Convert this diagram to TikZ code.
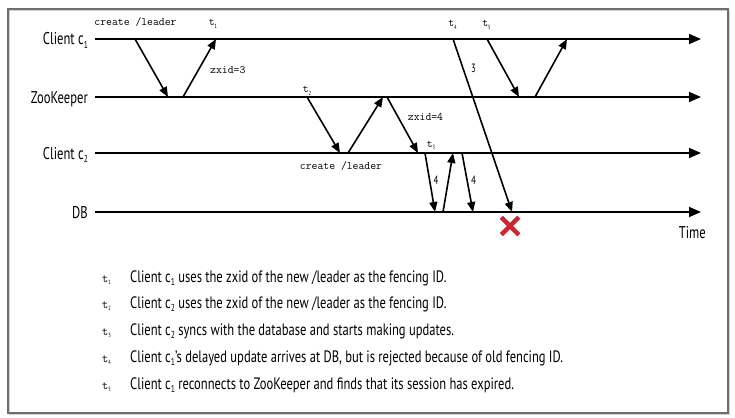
\documentclass[tikz,border=0pt]{standalone}
\usepackage{fontspec}
\setmainfont{PT Sans}[FakeStretch=0.74]
\newfontfamily\legfont{PT Sans}[FakeStretch=0.76]
\usetikzlibrary{arrows.meta,shapes.misc}
\definecolor{xred}{RGB}{204,38,48}
\definecolor{framegray}{RGB}{110,110,110}
\newcommand{\tsub}[1]{{\ttfamily t}\raisebox{-2.5pt}{\rmfamily\fontsize{6}{6}\selectfont #1}}
\newcommand{\csub}[1]{c\raisebox{-3.5pt}{\fontsize{10}{10}\selectfont #1}}
\begin{document}
\begin{tikzpicture}[x=1pt,y=-1pt,
  life/.style={line width=1.8pt,-{Triangle[length=12pt,width=10pt]}},
  msg/.style={line width=1.6pt,-{Triangle[length=10pt,width=8pt]}},
  lname/.style={anchor=base east,font=\fontsize{17}{17}\selectfont,inner sep=0pt},
  mono/.style={anchor=base,font=\ttfamily\fontsize{11.4}{12}\selectfont,inner sep=0pt},
  num/.style={anchor=base,font=\fontsize{12}{12}\selectfont,inner sep=0pt},
  legt/.style={anchor=base west,inner sep=0pt,font=\legfont\fontsize{16.5}{16.5}\selectfont},
  legl/.style={anchor=base west,inner sep=0pt,font=\ttfamily\fontsize{12}{12}\selectfont}
]
\useasboundingbox (0,0) rectangle (735,417);
\draw[gray!35,line width=1.2pt] (9.5,10.5) rectangle (729.5,414.5);
\draw[framegray,line width=1.2pt] (8,9) rectangle (728,413);

% lifeline labels
\node[lname] (lc1) at (88,45) {Client \csub{1}};
\node[lname] (lzk) at (88,103) {ZooKeeper};
\node[lname] (lc2) at (88,159) {Client \csub{2}};
\node[lname] (ldb) at (88,218) {DB};
\node[lname] (ltime) at (706,238) {Time};

% lifelines
\coordinate (c1s) at (95,39);  \coordinate (c1e) at (701,39);
\coordinate (zks) at (95,97);  \coordinate (zke) at (701,97);
\coordinate (c2s) at (95,153); \coordinate (c2e) at (701,153);
\coordinate (dbs) at (95,212); \coordinate (dbe) at (701,212);
\draw[life] (c1s) -- (c1e);
\draw[life] (zks) -- (zke);
\draw[life] (c2s) -- (c2e);
\draw[life] (dbs) -- (dbe);

% message end points
\coordinate (a1) at (135,39);  \coordinate (b1) at (168,97);
\coordinate (a2) at (183,97);  \coordinate (b2) at (216,39);
\coordinate (a3) at (307,97);  \coordinate (b3) at (340,153);
\coordinate (a4) at (348,153); \coordinate (b4) at (383,97);
\coordinate (a5) at (387,97);  \coordinate (b5) at (418,153);
\coordinate (a6) at (425,153); \coordinate (b6) at (435,212);
\coordinate (a7) at (443,212); \coordinate (b7) at (453,153);
\coordinate (a8) at (462,153); \coordinate (b8) at (473,212);
\coordinate (a9) at (453,39);  \coordinate (b9) at (512,212);
\coordinate (a10) at (487,39); \coordinate (b10) at (519,97);
\coordinate (a11) at (535,97); \coordinate (b11) at (567,39);

\draw[msg] (a1) -- (b1);
\draw[msg] (a2) -- (b2);
\draw[msg] (a3) -- (b3);
\draw[msg] (a4) -- (b4);
\draw[msg] (a5) -- (b5);
\draw[msg] (a6) -- (b6);
\draw[msg] (a7) -- (b7);
\draw[msg] (a8) -- (b8);
\draw[msg] (a9) -- (b9);
\draw[msg] (a10) -- (b10);
\draw[msg] (a11) -- (b11);

% rejection mark
\node[cross out,draw=xred,line width=4.5pt,minimum size=13pt,inner sep=0pt] (rej) at (510,226) {};

% message labels
\node[mono] (lcr1) at (135.5,26) {create /leader};
\node[mono] (lt1) at (213,26) {\tsub{1}};
\node[mono,anchor=base west] (lz3) at (210,74) {zxid=3};
\node[mono] (lt2) at (307,93) {\tsub{2}};
\node[mono] (lcr2) at (341,169) {create /leader};
\node[mono] (lz4) at (425.5,121) {zxid=4};
\node[mono] (lt3) at (431,147) {\tsub{3}};
\node[num] (l4a) at (436,184) {4};
\node[num] (l4b) at (473.5,184) {4};
\node[num] (l3) at (473.5,73) {3};
\node[mono] (lt4) at (452.5,27) {\tsub{4}};
\node[mono] (lt5) at (486.5,27) {\tsub{5}};

% legend
\node[legl] (k1) at (102,282) {\tsub{1}};
\node[legl] (k2) at (102,308) {\tsub{2}};
\node[legl] (k3) at (102,335) {\tsub{3}};
\node[legl] (k4) at (102,362) {\tsub{4}};
\node[legl] (k5) at (102,389) {\tsub{5}};
\node[legt] (d1) at (130,282) {Client \csub{1} uses the zxid of the new /leader as the fencing ID.};
\node[legt] (d2) at (130,308) {Client \csub{2} uses the zxid of the new /leader as the fencing ID.};
\node[legt] (d3) at (130,335) {Client \csub{2} syncs with the database and starts making updates.};
\node[legt] (d4) at (130,362) {Client \csub{1}’s delayed update arrives at DB, but is rejected because of old fencing ID.};
\node[legt] (d5) at (130,389) {Client \csub{1} reconnects to ZooKeeper and finds that its session has expired.};
\end{tikzpicture}
\end{document}
